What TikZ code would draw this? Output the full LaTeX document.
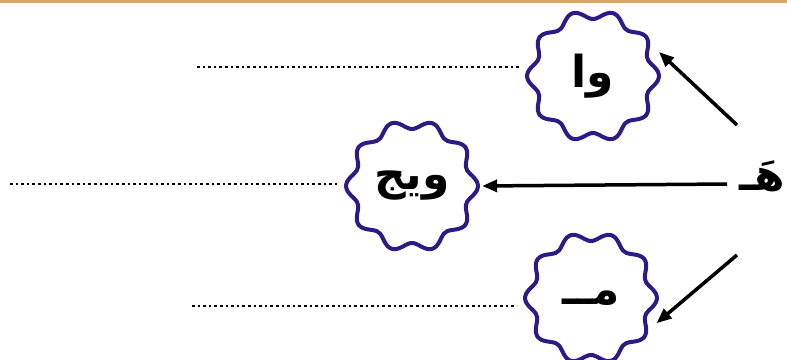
\documentclass[tikz,border=0pt]{standalone}
\usepackage{fontspec}
\newfontfamily\arabicfont[Script=Arabic]{DejaVu Sans}
\TeXXeTstate=1
\usetikzlibrary{arrows.meta}
\definecolor{blobblue}{HTML}{2E1A87}
\definecolor{rimtan}{HTML}{D9A574}

\begin{document}
\begin{tikzpicture}[x=1pt,y=-1pt]
\tikzstyle{blob} = [circle, minimum size=140pt, inner sep=0pt, font=\arabicfont\bfseries\fontsize{44}{46}\selectfont]
\tikzstyle{rim} = [draw=blobblue, line width=4pt]
\tikzstyle{dots} = [draw=black, line width=2.6pt, dash pattern=on 2.6pt off 3pt]
\tikzstyle{pointer} = [draw=black, line width=3.5pt, -{Triangle[length=15pt,width=12pt]}]

\useasboundingbox (0,0) rectangle (787,359);
\draw[rimtan, line width=3pt] (0,1.5) -- (787,1.5);

\node[blob] (wa) at (593,76) {\beginR وا\endR};
\node[blob] (wij) at (412,186) {\beginR ويج\endR};
\node[blob] (meh) at (591,298) {\beginR مــ\endR};
\node[blob, minimum size=0pt] (ha) at (762,176) {\beginR هَـ\endR};

% wavy outlines
\foreach \n in {wa,wij,meh}
  \draw[rim, shift={(\n.center)}] plot[smooth cycle, domain=0:356, samples=90] (\x:{61.5+4.5*cos(10*\x)});

\coordinate (waend) at (197,67);
\coordinate (wijend) at (10,184);
\coordinate (mehend) at (192,306);
\draw[dots, shorten >=4pt] (waend) -- (waend -| wa.west);
\draw[dots, shorten >=4pt] (wijend) -- (wijend -| wij.west);
\draw[dots, shorten >=4pt] (mehend) -- (mehend -| meh.west);

\coordinate (hatop) at (737,125);
\coordinate (hamid) at (727,184);
\coordinate (habot) at (737,255);
\draw[pointer] (hatop) -- (wa.20);
\draw[pointer] (hamid) -- (wij.east);
\draw[pointer] (habot) -- (meh.-21);
\end{tikzpicture}
\end{document}
